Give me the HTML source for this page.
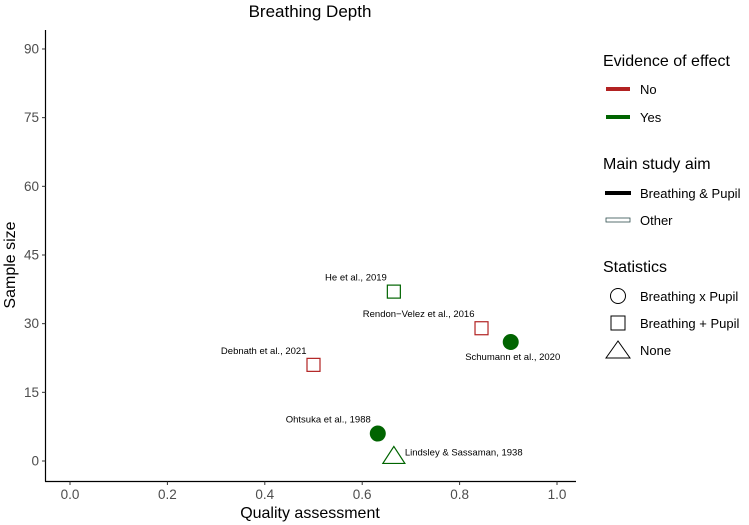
<!DOCTYPE html>
<html><head><meta charset="utf-8"><style>
html,body{margin:0;padding:0;background:#fff;}
svg{display:block;font-family:"Liberation Sans",Arial,sans-serif;}
</style></head><body>
<svg id="chart" width="749" height="525" viewBox="0 0 749 525">
<text x="310" y="17" text-anchor="middle" font-size="17" fill="#000">Breathing Depth</text>
<g id="axes"></g>
<g id="marks"></g>
<text transform="translate(15,265) rotate(-90)" text-anchor="middle" font-size="16" fill="#000">Sample size</text>
<text x="310" y="518" text-anchor="middle" font-size="16" fill="#000">Quality assessment</text>
<g font-size="13" fill="#000">
<text x="603" y="66" font-size="16">Evidence of effect</text>
<line x1="606" y1="89" x2="630" y2="89" stroke="#B22222" stroke-width="4"/>
<text x="640" y="94">No</text>
<line x1="606" y1="117" x2="630" y2="117" stroke="#006400" stroke-width="4"/>
<text x="640" y="122">Yes</text>
<text x="603" y="169" font-size="16">Main study aim</text>
<line x1="605" y1="193" x2="631" y2="193" stroke="#000" stroke-width="4"/>
<text x="640" y="198">Breathing &amp; Pupil</text>
<rect x="606" y="218" width="24" height="4" fill="#fff" stroke="#2f4f4f" stroke-width="0.8"/>
<text x="640" y="225">Other</text>
<text x="603" y="272" font-size="16">Statistics</text>
<circle cx="618" cy="296" r="7.5" fill="none" stroke="#000" stroke-width="1"/>
<text x="640" y="301">Breathing x Pupil</text>
<rect x="611" y="316" width="14" height="14" fill="none" stroke="#000" stroke-width="1"/>
<text x="640" y="328">Breathing + Pupil</text>
<polygon points="618,341 606,358 630,358" fill="none" stroke="#000" stroke-width="1"/>
<text x="640" y="355">None</text>
</g>
</svg>
<script>
const studies = ["He et al., 2019","Rendon\u2212Velez et al., 2016","Schumann et al., 2020","Debnath et al., 2021","Ohtsuka et al., 1988","Lindsley & Sassaman, 1938"];
const quality = [0.665,0.845,0.905,0.5,0.632,0.665];
const sampleSize = [37,29,26,21,6,1];
const evidence = ["Yes","No","Yes","No","Yes","Yes"];
const shapes = ["square","square","circle","square","circle","triangle"];
const xTicks = [0,0.2,0.4,0.6,0.8,1.0];
const xTickLabels = ["0.0","0.2","0.4","0.6","0.8","1.0"];
const yTicks = [0,15,30,45,60,75,90];
const yTickLabels = ["0","15","30","45","60","75","90"];
const labelPos = ["above-left","above-left","below","above-left","above-left","right"];

const NS="http://www.w3.org/2000/svg";
const xs = v => 70 + v*487;
const ys = v => 461 - v*4.578;
const axes=document.getElementById('axes'), marks=document.getElementById('marks');
function mk(tag,attrs,parent){const e=document.createElementNS(NS,tag);for(const k in attrs)e.setAttribute(k,attrs[k]);parent.appendChild(e);return e;}
const yl=mk('line',{x1:45.5,y1:30,x2:45.5,y2:481.5,stroke:'#000','stroke-width':1.2},axes);


const xl=mk('line',{x1:45,y1:481.5,x2:576,y2:481.5,stroke:'#000','stroke-width':1.2},axes);


xTicks.forEach((t,i)=>{
  const tk=mk('line',{x1:xs(t),y1:481.5,x2:xs(t),y2:485,stroke:'#333','stroke-width':1},axes);
  
  
  const tx=mk('text',{x:xs(t),y:499,'text-anchor':'middle','font-size':13.5,fill:'#4d4d4d'},axes);
  tx.textContent=xTickLabels[i];
  
  
});
yTicks.forEach((t,i)=>{
  const tk=mk('line',{x1:42,y1:ys(t),x2:45.5,y2:ys(t),stroke:'#333','stroke-width':1},axes);
  
  
  const tx=mk('text',{x:39,y:ys(t)+4.5,'text-anchor':'end','font-size':13.5,fill:'#4d4d4d'},axes);
  tx.textContent=yTickLabels[i];
  
  
});
studies.forEach((s,i)=>{
  const cx=xs(quality[i]), cy=ys(sampleSize[i]);
  const col=evidence[i]==="Yes"?"#006400":"#B22222";
  let m;
  if(shapes[i]==="circle") m=mk('circle',{cx:cx,cy:cy,r:8,fill:col},marks);
  else if(shapes[i]==="square") m=mk('rect',{x:cx-6.5,y:cy-6.5,width:13,height:13,fill:'none',stroke:col,'stroke-width':1.2},marks);
  else m=mk('polygon',{points:`${cx},${cy-10} ${cx-11},${cy+7} ${cx+11},${cy+7}`,fill:'none',stroke:col,'stroke-width':1.2},marks);
  
  
  let a,lx,ly;
  if(labelPos[i]==="above-left"){a='end';lx=cx-7;ly=cy-11;}
  else if(labelPos[i]==="below"){a='middle';lx=cx+2;ly=cy+18;}
  else {a='start';lx=cx+11;ly=cy-1;}
  const t=mk('text',{x:lx,y:ly,'text-anchor':a,'font-size':9.5,fill:'#000'},marks);
  t.textContent=s;
  
  
});
</script>
</body></html>
